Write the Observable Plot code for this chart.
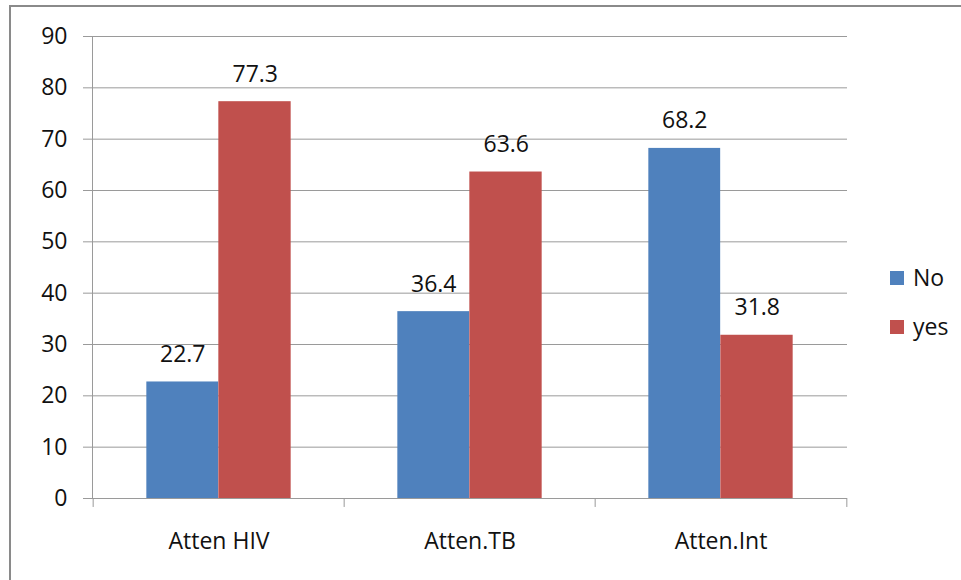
<!DOCTYPE html>
<html>
<head>
<meta charset="utf-8">
<script src="https://cdn.jsdelivr.net/npm/d3@7"></script>
<script src="https://cdn.jsdelivr.net/npm/@observablehq/plot@0.6"></script>
<style>
  html, body { margin: 0; padding: 0; background: #fff; overflow: hidden; }
  #wrap { position: relative; width: 961px; height: 580px; overflow: hidden; font-family: "Open Sans", sans-serif; }
  #frame { position: absolute; left: 9px; top: 5px; width: 1000px; height: 1000px; border: 2px solid #8a8a8a; box-sizing: border-box; pointer-events: none; }
  #legend { position: absolute; left: 890px; top: 253px; font-size: 23px; color: #111; line-height: 49px; }
  #legend .item { display: flex; align-items: center; }
  #legend .sw { width: 14px; height: 14px; margin-right: 9px; }
  svg { overflow: visible; }
</style>
</head>
<body>
<div id="wrap">
  <div id="chart"></div>
  <div id="legend"></div>
  <div id="frame"></div>
</div>
<script>
const categories = ["Atten HIV", "Atten.TB", "Atten.Int"];
const seriesNames = ["No", "yes"];
const noValues = [22.7, 36.4, 68.2];
const yesValues = [77.3, 63.6, 31.8];
const yTicks = [0, 10, 20, 30, 40, 50, 60, 70, 80, 90];
const colors = ["#4F81BD", "#C0504D"];

const W = 961, H = 580;
const mL = 92, mR = 114, mT = 36, mB = 82;
const band = (W - mL - mR) / categories.length;
const barW = 72.5;
const side = (band - 2 * barW) / 2;

const rows = categories.map((c, i) => ({category: c, No: noValues[i], yes: yesValues[i]}));
const fmt = d => d.toFixed(1);
const textColor = "#111";
const gridColor = "#9a9a9a";
const fs = 23;

const chart = Plot.plot({
  width: W,
  height: H,
  marginLeft: mL,
  marginRight: mR,
  marginTop: mT,
  marginBottom: mB,
  style: {fontFamily: "Open Sans, sans-serif", fontSize: fs + "px", color: textColor, background: "transparent"},
  x: {type: "band", domain: categories, padding: 0, label: null},
  y: {domain: [0, 90], ticks: yTicks, label: null},
  marks: [
    Plot.gridY(yTicks, {stroke: gridColor, strokeOpacity: 1}),
    Plot.axisY(yTicks, {tickSize: 9, tickPadding: 16, stroke: gridColor, strokeOpacity: 1, fill: textColor, fontSize: fs, label: null}),
    Plot.axisX({tickSize: 0, tickPadding: 34, fill: textColor, fontSize: fs, label: null}),
    Plot.frame({anchor: "left", stroke: gridColor, strokeOpacity: 1}),
    Plot.ruleX(categories, {x: d => d, dx: -band / 2, y1: 0, y2: -1.75, stroke: gridColor}),
    Plot.ruleX([categories[categories.length - 1]], {x: d => d, dx: band / 2, y1: 0, y2: -1.75, stroke: gridColor}),
    Plot.barY(rows, {x: "category", y: "No", fill: colors[0], insetLeft: side, insetRight: side + barW}),
    Plot.barY(rows, {x: "category", y: "yes", fill: colors[1], insetLeft: side + barW - 0.5, insetRight: side}),
    Plot.ruleY([0], {stroke: gridColor, insetLeft: -9}),
    Plot.text(rows, {x: "category", y: "No", text: d => fmt(d.No), dx: -barW / 2, dy: -20, lineAnchor: "bottom", textAnchor: "middle", fill: textColor, fontSize: fs}),
    Plot.text(rows, {x: "category", y: "yes", text: d => fmt(d.yes), dx: barW / 2, dy: -20, lineAnchor: "bottom", textAnchor: "middle", fill: textColor, fontSize: fs})
  ]
});
document.getElementById("chart").appendChild(chart);

const legend = document.getElementById("legend");
seriesNames.forEach((name, i) => {
  const item = document.createElement("div");
  item.className = "item";
  const sw = document.createElement("span");
  sw.className = "sw";
  sw.style.background = colors[i];
  const label = document.createElement("span");
  label.textContent = name;
  item.appendChild(sw);
  item.appendChild(label);
  legend.appendChild(item);
});
</script>
</body>
</html>
